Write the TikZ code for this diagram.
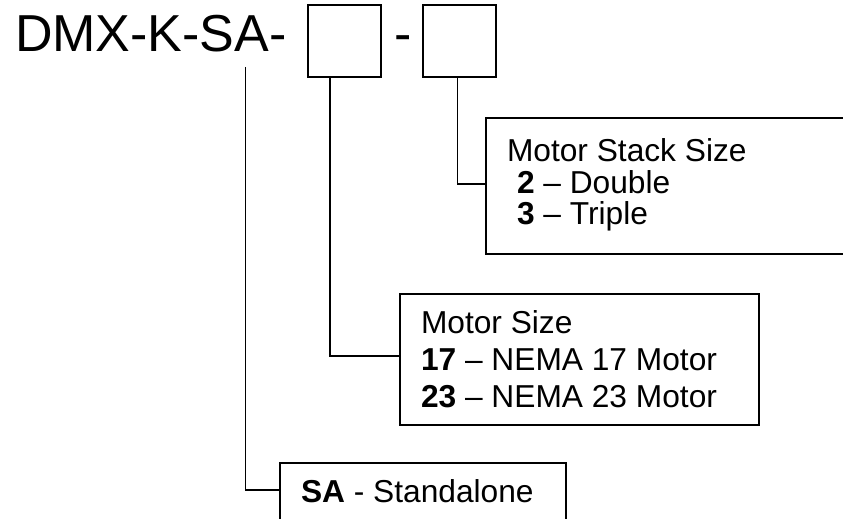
\documentclass[tikz,border=0pt]{standalone}
\usepackage{fontspec}
\setmainfont{Liberation Sans}
\begin{document}
\begin{tikzpicture}[x=1pt,y=-1pt,
  box/.style={draw, line width=1.5pt, inner sep=0pt, outer sep=0pt, anchor=north west},
  lbl/.style={inner sep=0pt, outer sep=0pt, anchor=base west, font=\fontsize{31.7}{38}\selectfont},
  big/.style={inner sep=0pt, outer sep=0pt, anchor=base west, font=\fontsize{52}{60}\selectfont},
  conn/.style={draw, line width=1.5pt}]
\useasboundingbox (0,0) rectangle (843,519);
% title
\node[big] (title) at (15,52) {DMX-K-SA-};
\node[box, minimum width=73pt, minimum height=72pt] (b1) at (308,5) {};
\node[big] (dash) at (394,52) {-};
\node[box, minimum width=73pt, minimum height=72pt] (b2) at (423,5) {};
% boxes
\node[box, minimum width=370pt, minimum height=136pt] (stack) at (486,118) {};
\node[box, minimum width=359pt, minimum height=131pt] (msize) at (400,294) {};
\node[box, minimum width=286pt, minimum height=60pt] (sa) at (280,463) {};
% texts
\node[lbl] (t1) at (507,161) {Motor Stack Size};
\node[lbl] (t2) at (517,193) {\textbf{2} – Double};
\node[lbl] (t3) at (517,224) {\textbf{3} – Triple};
\node[lbl] (m1) at (421,333) {Motor Size};
\node[lbl] (m2) at (421,370) {\textbf{17} – NEMA 17 Motor};
\node[lbl] (m3) at (421,407) {\textbf{23} – NEMA 23 Motor};
\node[lbl] (s1) at (301,502) {\textbf{SA} - Standalone};
% connectors
\coordinate (sastart) at (245.7,67);
\coordinate (sajoin) at (280,490);
\draw[conn] (sastart) |- (sajoin);
\draw[conn] ([xshift=-14.5pt]b1.south) |- ([yshift=3.5pt]msize.west);
\draw[conn] ([xshift=-2pt]b2.south) |- ([yshift=2pt]stack.west);
\end{tikzpicture}
\end{document}
